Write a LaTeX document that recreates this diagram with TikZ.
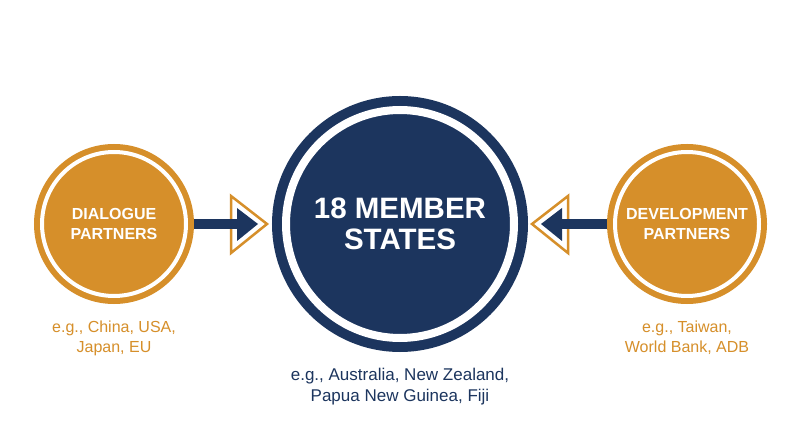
\documentclass[tikz,border=0pt]{standalone}
\usepackage{fontspec}
\setmainfont{Liberation Sans}
\usetikzlibrary{positioning}

\definecolor{navy}{HTML}{1C355E}
\definecolor{gold}{HTML}{D68F2A}

\begin{document}
\begin{tikzpicture} [
		x = 1pt,
		y = 1pt,
		partner/.style = {
			circle,
			fill = gold,
			draw = gold,
			line width = 6pt,
			double = white,
			double distance = 4pt,
			minimum size = 144pt,
			outer sep = 8pt,
			text = white,
			align = center,
			font = \bfseries\fontsize{16}{20}\selectfont,
		},
		member/.style = {
			circle,
			fill = navy,
			draw = navy,
			line width = 10pt,
			double = white,
			double distance = 8pt,
			minimum size = 228pt,
			outer sep = 14pt,
			text = white,
			align = center,
			font = \bfseries\fontsize{29.5}{31}\selectfont,
		},
		caption/.style = {
			align = center,
			font = \fontsize{16}{20.5}\selectfont,
		},
		arrow-shaft/.style = {
			draw = navy,
			line width = 10pt,
		},
		arrow-rim/.style = {
			draw = gold,
			fill = white,
			line width = 2.5pt,
		},
		arrow-tip/.style = {
			fill = navy,
		},
		arrowhead/.pic = {
			\path[arrow-rim] (-6,28) -- (30,0) -- (-6,-29) -- cycle;
			\path[arrow-tip] (0,16) -- (21,0) -- (0,-17) -- cycle;
		},
	]

	\fill[white] (0,0) rectangle (800,447);
	\useasboundingbox (0,0) rectangle (800,447);

	% circles
	\node[partner] (dialogue) at (114,223) {DIALOGUE\\PARTNERS};
	\node[member] (member) at (400,223) {18 MEMBER\\STATES};
	\node[partner] (development) at (687,223) {DEVELOPMENT\\PARTNERS};

	% examples
	\node[caption, text = gold, below = 13pt of dialogue] (dialogueEx) {
		e.g., China, USA,\\Japan, EU
	};
	\node[caption, text = navy, font = \fontsize{17}{21}\selectfont,
		below = 13pt of member] (memberEx) {
		e.g., Australia, New Zealand,\\Papua New Guinea, Fiji
	};
	\node[caption, text = gold, below = 13pt of development] (developmentEx) {
		e.g., Taiwan,\\World Bank, ADB
	};

	% arrows
	\coordinate[right = 43pt of dialogue] (dialogueHead);
	\coordinate[left = 45pt of development] (developmentHead);

	\pic at (dialogueHead) {arrowhead};
	\pic[xscale = -1] at (developmentHead) {arrowhead};

	\path[arrow-shaft] (dialogue.east) -- (dialogueHead);
	\path[arrow-shaft] (development.west) -- (developmentHead);
\end{tikzpicture}
\end{document}
